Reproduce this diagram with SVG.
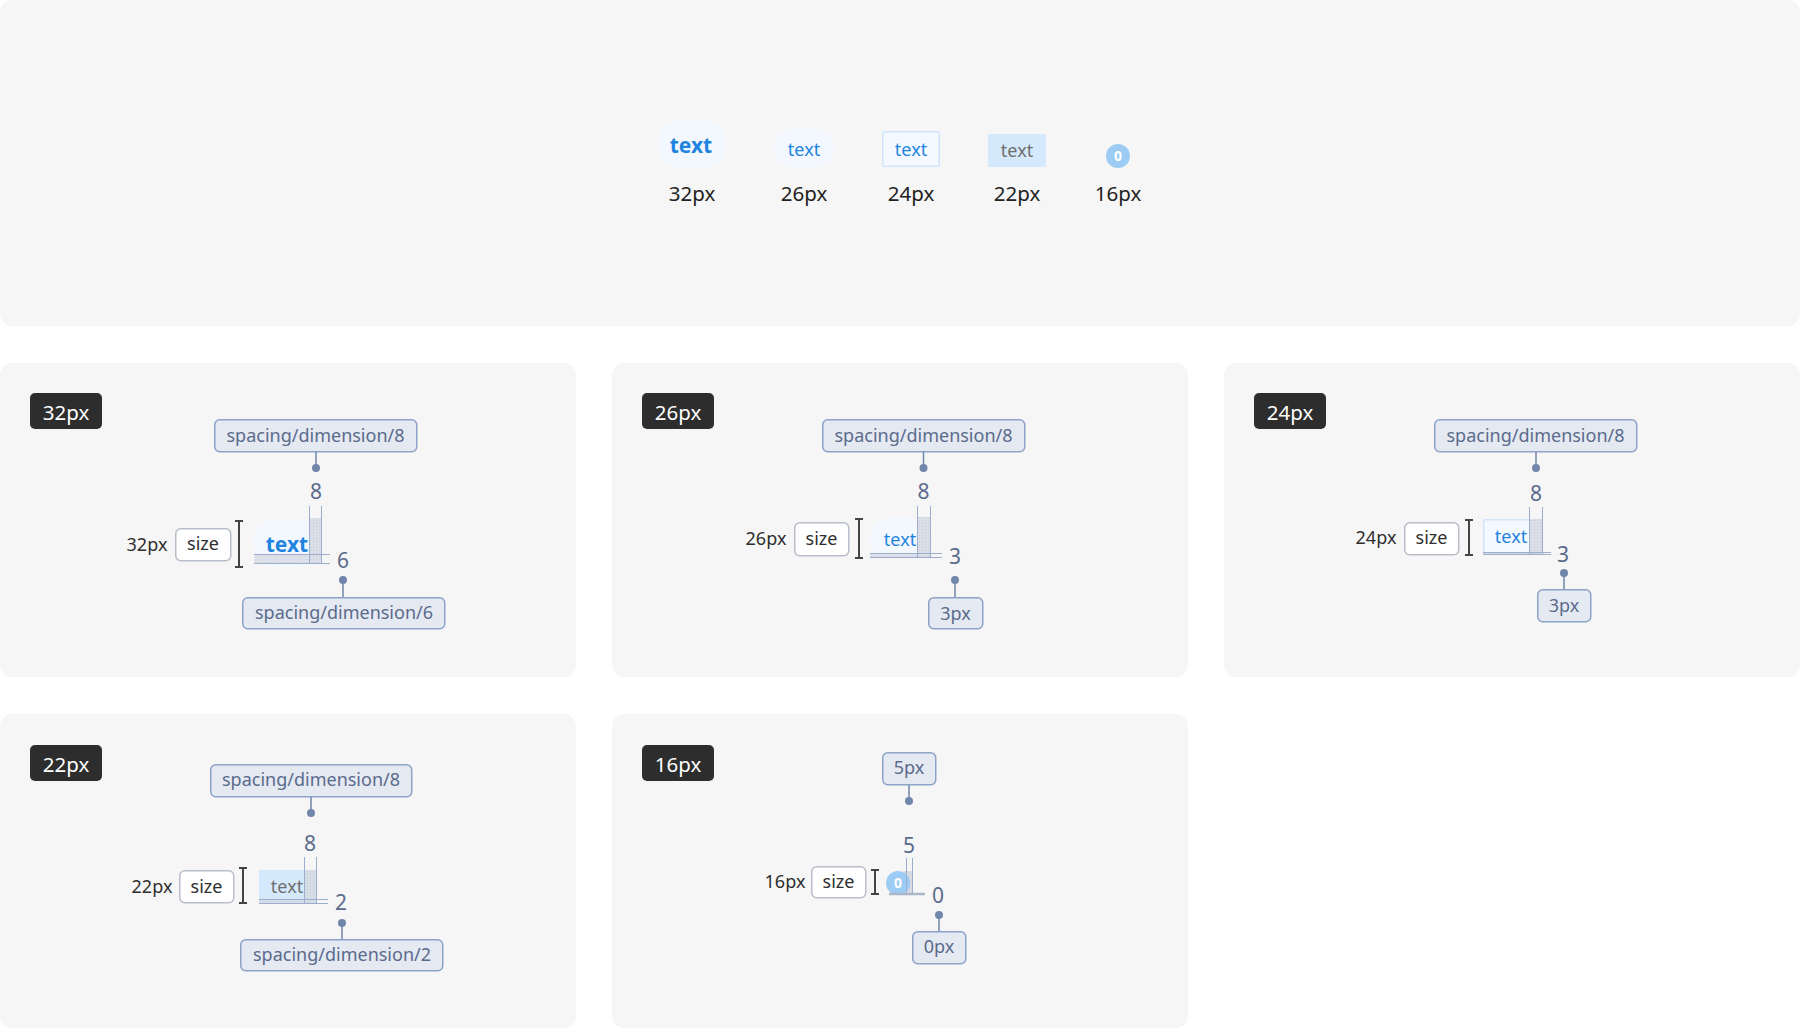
<svg xmlns="http://www.w3.org/2000/svg" width="1800" height="1029" viewBox="0 0 1800 1029">
<defs>
<pattern id="hatch" width="3" height="3" patternUnits="userSpaceOnUse">
<rect width="3" height="3" fill="#d8dde6"/>
<circle cx="1.5" cy="1.5" r="0.7" fill="#c3cad7"/>
</pattern>
<style>
text{font-family:"Noto Sans","Open Sans","Liberation Sans",sans-serif;}
.panel{fill:#f6f6f6;}
.badge{fill:#2d2d2d;}
.badget{fill:#ffffff;font-size:20.5px;text-anchor:middle;}
.lab{fill:#e4e9f2;stroke:#8ea3c8;stroke-width:1.5;}
.labt{fill:#5b6b8c;font-size:18px;text-anchor:middle;}
.num{fill:#5b6b8c;font-size:21px;text-anchor:middle;}
.side{fill:#2e2e2e;font-size:18px;text-anchor:middle;}
.size{fill:#ffffff;stroke:#b8bfcb;stroke-width:1.5;}
.sizet{fill:#2e2e2e;font-size:18px;text-anchor:middle;}
.ibeam{stroke:#444;stroke-width:2;fill:none;}
.meas{stroke:#9cadcd;stroke-width:1;fill:none;}
.con{stroke:#7186ab;stroke-width:1.5;fill:none;}
.dot{fill:#7186ab;}
.hat{fill:url(#hatch);}
.pill{fill:#f2f8fe;}
.blue{fill:#1f84e0;}
.toplab{fill:#222;font-size:20.5px;text-anchor:middle;}
</style>
</defs>
<rect width="1800" height="1029" fill="#ffffff"/>

<g id="top-panel">
<rect class="panel" x="0" y="0" width="1800" height="326" rx="12"/>
</g>

<g id="top-32">
<rect class="pill" x="658" y="120" width="68" height="48" rx="22"/>
<text class="blue" x="691" y="153" font-size="21" font-weight="700" text-anchor="middle">text</text>
<text class="toplab" x="692" y="201">32px</text>
</g>
<g id="top-26">
<rect class="pill" x="774" y="129" width="60" height="38" rx="19"/>
<text class="blue" x="804" y="156" font-size="18" text-anchor="middle">text</text>
<text class="toplab" x="804" y="201">26px</text>
</g>
<g id="top-24">
<rect x="882.75" y="131.75" width="56.5" height="34.5" fill="#f4f9ff" stroke="#cfe4fa" stroke-width="1.5" rx="1"/>
<text class="blue" x="911" y="156" font-size="18" text-anchor="middle">text</text>
<text class="toplab" x="911" y="201">24px</text>
</g>
<g id="top-22">
<rect x="988" y="134" width="58" height="33" fill="#d5e9fc" rx="1.5"/>
<text x="1017" y="157" font-size="18" fill="#6e6e6e" text-anchor="middle">text</text>
<text class="toplab" x="1017" y="201">22px</text>
</g>
<g id="top-16">
<circle cx="1118" cy="156" r="12" fill="#9ccbf3"/>
<text x="1118" y="161" font-size="14" font-weight="700" fill="#ffffff" text-anchor="middle">0</text>
<text class="toplab" x="1118" y="201">16px</text>
</g>

<!-- Panel 1: 32px -->
<g id="panel-32">
<rect class="panel" x="0" y="363" width="576" height="314" rx="12"/>
<rect class="badge" x="30" y="393" width="72" height="36" rx="5"/>
<text class="badget" x="66" y="420">32px</text>
<text class="side" x="147" y="551">32px</text>
<rect class="size" x="175.75" y="528.75" width="55" height="32" rx="5"/>
<text class="sizet" x="203" y="550">size</text>
<path class="ibeam" d="M239 521V567M235 521H243M235 567H243"/>
<rect class="pill" x="254" y="519" width="68" height="48" rx="22"/>
<text class="blue" x="287" y="552" font-size="21" font-weight="700" text-anchor="middle">text</text>
<rect class="hat" x="309" y="518" width="12" height="45" opacity="0.9"/>
<rect class="hat" x="254" y="554" width="55" height="9" opacity="0.8"/>
<path class="meas" d="M309.5 506V563M321.5 506V563M254 554.5H330M254 563.5H330"/>
<text class="num" x="316" y="499">8</text>
<text class="num" x="343" y="568">6</text>
</g>
<g id="p32-top-label">
<rect class="lab" x="214.75" y="419.75" width="202" height="32" rx="5"/>
<text class="labt" x="315.5" y="442">spacing/dimension/8</text>
</g>
<g id="p32-bottom-label">
<rect class="lab" x="242.75" y="597.75" width="202" height="31" rx="5"/>
<text class="labt" x="344" y="619">spacing/dimension/6</text>
</g>

<!-- Panel 2: 26px -->
<g id="panel-26">
<rect class="panel" x="612" y="363" width="576" height="314" rx="12"/>
<rect class="badge" x="642" y="393" width="72" height="36" rx="5"/>
<text class="badget" x="678" y="420">26px</text>
<text class="side" x="766" y="545">26px</text>
<rect class="size" x="794.75" y="522.75" width="54" height="33" rx="5"/>
<text class="sizet" x="821.5" y="545">size</text>
<path class="ibeam" d="M859 519V558M855 519H863M855 558H863"/>
<rect class="pill" x="870" y="518" width="60" height="39" rx="19"/>
<text class="blue" x="900" y="546" font-size="18" text-anchor="middle">text</text>
<rect class="hat" x="917" y="517" width="13" height="40" opacity="0.9"/>
<rect class="hat" x="870" y="553" width="47" height="4" opacity="0.8"/>
<path class="meas" d="M917.5 506V557M930.5 506V557M870 553.5H942M870 557.5H942"/>
<text class="num" x="923.5" y="499">8</text>
<text class="num" x="955" y="564">3</text>
</g>
<g id="p26-top-label">
<rect class="lab" x="822.75" y="419.75" width="202" height="32" rx="5"/>
<text class="labt" x="923.5" y="442">spacing/dimension/8</text>
</g>
<g id="p26-bottom-label">
<rect class="lab" x="928.75" y="597.75" width="54" height="31" rx="5"/>
<text class="labt" x="955.5" y="620">3px</text>
</g>

<!-- Panel 3: 24px -->
<g id="panel-24">
<rect class="panel" x="1224" y="363" width="576" height="314" rx="12"/>
<rect class="badge" x="1254" y="393" width="72" height="36" rx="5"/>
<text class="badget" x="1290" y="420">24px</text>
<text class="side" x="1376" y="544">24px</text>
<rect class="size" x="1404.75" y="522.75" width="54" height="32" rx="5"/>
<text class="sizet" x="1431.5" y="544">size</text>
<path class="ibeam" d="M1469 520V555M1465 520H1473M1465 555H1473"/>
<rect x="1483.75" y="519.75" width="57.5" height="33.5" fill="#f4f9ff" stroke="#cfe4fa" stroke-width="1.5" rx="1"/>
<text class="blue" x="1511" y="543" font-size="18" text-anchor="middle">text</text>
<rect class="hat" x="1529" y="519" width="13" height="35" opacity="0.9"/>
<rect class="hat" x="1483" y="552" width="46" height="2" opacity="0.8"/>
<path class="meas" d="M1529.5 507V554M1542.5 507V554M1483 552.5H1551M1483 554.5H1551"/>
<text class="num" x="1536" y="501">8</text>
<text class="num" x="1563" y="562">3</text>
</g>
<g id="p24-top-label">
<rect class="lab" x="1434.75" y="419.75" width="202" height="32" rx="5"/>
<text class="labt" x="1535.5" y="442">spacing/dimension/8</text>
</g>
<g id="p24-bottom-label">
<rect class="lab" x="1537.75" y="589.75" width="53" height="32" rx="5"/>
<text class="labt" x="1564" y="612">3px</text>
</g>

<!-- Panel 4: 22px -->
<g id="panel-22">
<rect class="panel" x="0" y="714" width="576" height="314" rx="12"/>
<rect class="badge" x="30" y="745" width="72" height="36" rx="5"/>
<text class="badget" x="66" y="772">22px</text>
<text class="side" x="152" y="893">22px</text>
<rect class="size" x="179.75" y="870.75" width="54" height="32" rx="5"/>
<text class="sizet" x="206.5" y="893">size</text>
<path class="ibeam" d="M243 868V903M239 868H247M239 903H247"/>
<rect x="259" y="870" width="58" height="33" fill="#d5e9fc"/>
<text x="287" y="893" font-size="18" fill="#6e6e6e" text-anchor="middle">text</text>
<rect class="hat" x="304" y="870" width="12" height="33" opacity="0.9"/>
<rect class="hat" x="259" y="900" width="45" height="3" opacity="0.8"/>
<path class="meas" d="M304.5 857V903M316.5 857V903M259 899.5H328M259 903.5H328"/>
<text class="num" x="310" y="851">8</text>
<text class="num" x="341" y="910">2</text>
</g>
<g id="p22-top-label">
<rect class="lab" x="210.75" y="764.75" width="201" height="32" rx="5"/>
<text class="labt" x="311" y="786">spacing/dimension/8</text>
</g>
<g id="p22-bottom-label">
<rect class="lab" x="240.75" y="939.75" width="202" height="31" rx="5"/>
<text class="labt" x="342" y="961">spacing/dimension/2</text>
</g>

<!-- Panel 5: 16px -->
<g id="panel-16">
<rect class="panel" x="612" y="714" width="576" height="314" rx="12"/>
<rect class="badge" x="642" y="745" width="72" height="36" rx="5"/>
<text class="badget" x="678" y="772">16px</text>
<text class="side" x="785" y="888">16px</text>
<rect class="size" x="811.75" y="866.75" width="54" height="31" rx="5"/>
<text class="sizet" x="838.5" y="888">size</text>
<path class="ibeam" d="M875 870V894M871 870H879M871 894H879"/>
<rect x="903" y="871" width="9" height="23" fill="#d6dbe3"/>
<circle cx="898" cy="883" r="12" fill="#9ccbf3"/>
<text x="898" y="888" font-size="14" font-weight="700" fill="#ffffff" text-anchor="middle">0</text>
<path class="meas" d="M906.5 858V894M912.5 858V894"/>
<path d="M889 894H925" stroke="#a9b6cc" stroke-width="2.5" fill="none"/>
<text class="num" x="909" y="853">5</text>
<text class="num" x="938" y="903">0</text>
</g>
<g id="p16-top-label">
<rect class="lab" x="882.75" y="752.75" width="53" height="32" rx="5"/>
<text class="labt" x="909" y="774">5px</text>
</g>
<g id="p16-bottom-label">
<rect class="lab" x="912.75" y="931.75" width="53" height="32" rx="5"/>
<text class="labt" x="939" y="953">0px</text>
</g>

<g id="connectors">
<path class="con" d="M316 452V468M343 580V597M923.5 452V468M955 580V597M1536 452V468M1564 573V589M311 797V813M342 923V939M909 785V801M939 915V931"/>
<circle class="dot" cx="316" cy="468" r="4"/>
<circle class="dot" cx="343" cy="580" r="4"/>
<circle class="dot" cx="923.5" cy="468" r="4"/>
<circle class="dot" cx="955" cy="580" r="4"/>
<circle class="dot" cx="1536" cy="468" r="4"/>
<circle class="dot" cx="1564" cy="573" r="4"/>
<circle class="dot" cx="311" cy="813" r="4"/>
<circle class="dot" cx="342" cy="923" r="4"/>
<circle class="dot" cx="909" cy="801" r="4"/>
<circle class="dot" cx="939" cy="915" r="4"/>
</g>
</svg>
